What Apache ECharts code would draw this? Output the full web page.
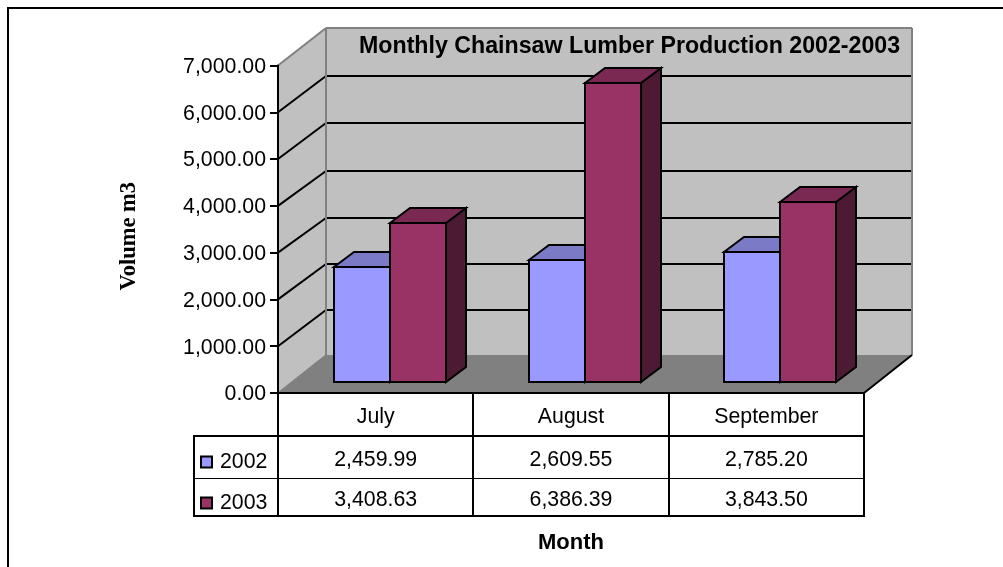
<!DOCTYPE html>
<html><head><meta charset="utf-8">
<style>html,body{margin:0;padding:0;background:#fff}#c{width:1003px;height:567px}</style>
<script src="https://cdn.jsdelivr.net/npm/echarts@6/dist/echarts.min.js"></script>
</head><body><div id="c"></div>
<script>
const categories = ['July', 'August', 'September'];
const years = ['2002', '2003'];
const values2002 = [2459.99, 2609.55, 2785.20];
const values2003 = [3408.63, 6386.39, 3843.50];
const yTicks = [0, 1000, 2000, 3000, 4000, 5000, 6000, 7000];

const FONT = '"Liberation Sans", Arial, sans-serif';
const fmt = v => v.toLocaleString('en-US', {minimumFractionDigits: 2, maximumFractionDigits: 2});
const WALL = {dx: 48, dy: -37.6, sag: [0, 1.25, 2, 2.75, 2.5, 2, 1, 0]};
const BAR = {dx: 14, dy: -11, ddx: 20, ddy: -15, ratio: 0.2867};
const ROW = {head: 43, r1: 85, r2: 123, c1: 67, c2: 107, legendLeft: 84};
const COL = {
  2002: {front: '#9999FF', top: '#7A7AC6', side: '#4D4D80'},
  2003: {front: '#993366', top: '#7A2952', side: '#4D1A33'}
};
const R = Math.round;
const blk = w => ({stroke: '#000', lineWidth: w, fill: null});
const line = (a, b, style) => ({type: 'line', shape: {x1: a[0], y1: a[1], x2: b[0], y2: b[1]}, style});
const poly = (points, fill, stroke, w) => ({type: 'polygon', shape: {points}, style: {fill, stroke: stroke || null, lineWidth: w || 0}});

function frame(api) {
  const band = api.size([1, 0])[0];
  const left = api.coord([0, 0])[0] - band / 2;
  return {band, left, right: left + band * categories.length, y0: api.coord([0, 0])[1]};
}

function renderWalls(params, api) {
  const {left, right, y0} = frame(api);
  const yTop = api.coord([0, yTicks[yTicks.length - 1]])[1];
  const d = WALL;
  const bx0 = left + d.dx, bx1 = right + d.dx, by0 = R(y0 + d.dy), byT = R(yTop + d.dy);
  const c = [
    poly([[left, y0], [bx0, by0], [bx0, byT], [left, yTop]], '#C0C0C0'),
    poly([[bx0, by0], [bx1, by0], [bx1, byT], [bx0, byT]], '#C0C0C0'),
    poly([[left, y0], [right, y0], [bx1, by0], [bx0, by0]], '#808080')
  ];
  yTicks.slice(1, -1).forEach((t, i) => {
    const y = api.coord([0, t])[1];
    const by = R(y + d.dy + d.sag[i + 1]);
    c.push(line([left, y], [bx0, by], blk(2)));
    c.push(line([bx0, by], [bx1, by], blk(2)));
  });
  const gray = {stroke: '#808080', lineWidth: 2};
  c.push(line([left, yTop], [bx0, byT], gray));
  c.push(line([bx0, byT], [bx1, byT], gray));
  c.push(line([bx1, byT], [bx1, by0], gray));
  c.push(line([bx0, byT], [bx0, by0], gray));
  c.push(line([left, y0], [bx0, by0], {stroke: '#808080', lineWidth: 1.5}));
  c.push(line([right, y0], [bx1, by0], blk(2)));
  return {type: 'group', children: c};
}

function renderBar(year, order) {
  return function (params, api) {
    const band = api.size([1, 0])[0];
    const w = band * BAR.ratio;
    const top = api.coord([api.value(0), api.value(1)]);
    const base = api.coord([api.value(0), 0]);
    const x0 = R(top[0] + BAR.dx + (order === 0 ? -w : 0));
    const x1 = R(top[0] + BAR.dx + (order === 0 ? 0 : w));
    const yT = R(top[1] + BAR.dy), yB = R(base[1] + BAR.dy);
    const ddx = BAR.ddx, ddy = BAR.ddy, k = COL[year];
    return {type: 'group', children: [
      poly([[x1, yT], [x1 + ddx, yT + ddy], [x1 + ddx, yB + ddy], [x1, yB]], k.side, '#000', 2),
      poly([[x0, yT], [x0 + ddx, yT + ddy], [x1 + ddx, yT + ddy], [x1, yT]], k.top, '#000', 2),
      poly([[x0, yT], [x1, yT], [x1, yB], [x0, yB]], k.front, '#000', 2)
    ]};
  };
}

function renderTable(params, api) {
  const {band, left, right, y0} = frame(api);
  const c = [];
  const tLeft = left - ROW.legendLeft;
  const Y = o => R(y0 + o);
  c.push(line([tLeft, Y(ROW.head)], [R(right), Y(ROW.head)], blk(2)));
  c.push(line([tLeft, Y(ROW.r1) + 0.5], [R(right), Y(ROW.r1) + 0.5], blk(1)));
  c.push(line([tLeft - 1, Y(ROW.r2)], [R(right) + 1, Y(ROW.r2)], blk(2)));
  c.push(line([tLeft, Y(ROW.head) - 1], [tLeft, Y(ROW.r2)], blk(2)));
  for (let i = 0; i <= categories.length; i++) {
    const x = R(left + band * i);
    c.push(line([x, R(y0)], [x, Y(ROW.r2)], blk(2)));
  }
  [values2002, values2003].forEach((vals, r) => {
    vals.forEach((v, i) => {
      c.push({type: 'text', style: {
        text: fmt(v), x: left + band * (i + 0.5), y: y0 + (r ? ROW.c2 : ROW.c1),
        align: 'center', verticalAlign: 'middle', font: '21.3px ' + FONT, fill: '#000'
      }});
    });
  });
  return {type: 'group', children: c};
}

const chart = echarts.init(document.getElementById('c'), null, {renderer: 'canvas'});
chart.setOption({
  animation: false,
  backgroundColor: '#fff',
  title: {
    text: 'Monthly Chainsaw Lumber Production 2002-2003', left: 359, top: 35, padding: 0,
    textStyle: {fontFamily: FONT, fontWeight: 'bold', fontSize: 23.2, color: '#000'}
  },
  legend: {
    data: years, orient: 'vertical', left: 200, top: 449, itemWidth: 11, itemHeight: 11, itemGap: 15,
    selectedMode: false, icon: 'rect', padding: 0,
    itemStyle: {borderColor: '#000', borderWidth: 2},
    textStyle: {fontFamily: FONT, fontSize: 21.3, color: '#000', padding: [2, 0, 0, 3], lineHeight: 24}
  },
  grid: {left: 278, top: 65.5, width: 586, height: 327.5, containLabel: false},
  xAxis: {
    type: 'category', data: categories, z: 6,
    name: 'Month', nameLocation: 'middle', nameGap: 139,
    nameTextStyle: {fontFamily: FONT, fontWeight: 'bold', fontSize: 22, color: '#000'},
    axisLine: {lineStyle: {color: '#000', width: 2}},
    axisTick: {show: false},
    axisLabel: {fontFamily: FONT, fontSize: 21.3, color: '#000', margin: 14}
  },
  yAxis: {
    type: 'value', min: 0, max: 7000, interval: 1000, z: 6,
    name: 'Volume m3', nameLocation: 'middle', nameGap: 137,
    nameTextStyle: {fontFamily: '"Liberation Serif", serif', fontWeight: 'bold', fontSize: 22.5, color: '#000', padding: [0, 14, 0, 0]},
    axisLine: {show: true, lineStyle: {color: '#000', width: 2}},
    axisTick: {show: true, length: 8, lineStyle: {color: '#000', width: 2}},
    splitLine: {show: false},
    axisLabel: {fontFamily: FONT, fontSize: 21.3, color: '#000', margin: 12, verticalAlign: 'top', lineHeight: 3, formatter: fmt}
  },
  series: [
    {type: 'custom', name: 'walls', z: 1, silent: true, clip: false, renderItem: renderWalls, data: [[0, 0]], encode: {x: 0, y: 1}},
    {type: 'custom', name: years[0], z: 2, clip: false, itemStyle: {color: COL[2002].front}, renderItem: renderBar('2002', 0),
      data: values2002.map((v, i) => [i, v]), encode: {x: 0, y: 1}},
    {type: 'custom', name: years[1], z: 3, clip: false, itemStyle: {color: COL[2003].front}, renderItem: renderBar('2003', 1),
      data: values2003.map((v, i) => [i, v]), encode: {x: 0, y: 1}},
    {type: 'custom', name: 'table', z: 4, silent: true, clip: false, renderItem: renderTable, data: [[0, 0]], encode: {x: 0, y: 1}}
  ],
  graphic: [{type: 'polyline', silent: true, shape: {points: [[8, 575], [8, 8], [1010, 8]]}, style: {stroke: '#000', lineWidth: 2, fill: null}}]
});
</script></body></html>
